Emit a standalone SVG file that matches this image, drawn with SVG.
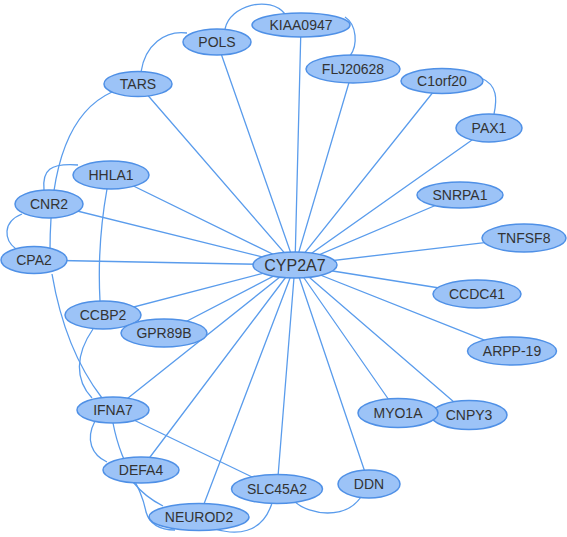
<svg xmlns="http://www.w3.org/2000/svg" width="567" height="537" viewBox="0 0 567 537">
<style>
.e{fill:none;stroke:#5a9cec;stroke-width:1.3}
.n ellipse{fill:#9cc3f7;stroke:#4f90e6;stroke-width:1.5}
.n text{font-family:"Liberation Sans",Arial,sans-serif;font-size:14px;fill:#333;text-anchor:middle;dominant-baseline:central}
</style>
<rect width="567" height="537" fill="#fff"/>
<g id="edges">
<path class="e" d="M295,265L217,42M295,265L301,25M295,265L353,69M295,265L442,81M295,265L489,128M295,265L460,195M295,265L524,238M295,265L477,294M295,265L512,351M295,265L469,415M295,265L398,413M295,265L369,484M295,265L277,489M295,265L199,517M295,265L141,469M295,265L113,410M295,265L164,333M295,265L103,315M295,265L34,260M295,265L49,204M295,265L111,175M295,265L138,84"/>
<path class="e" d="M141,72C145,45 165,30 187,33"/>
<path class="e" d="M225,29C230,5 270,-5 285,14"/>
<path class="e" d="M345,17C357,25 358,45 350,56"/>
<path class="e" d="M481,78C498,85 497,100 494,114"/>
<path class="e" d="M112,92Q50,120 50,250"/>
<path class="e" d="M44,190C42,170 50,163 78,165"/>
<path class="e" d="M22,214C2,222 4,240 16,249"/>
<path class="e" d="M107,189Q97,245 100,301"/>
<path class="e" d="M52,274Q65,350 102,398"/>
<path class="e" d="M93,329C75,355 75,380 92,398"/>
<path class="e" d="M95,421C85,440 92,455 107,462"/>
<path class="e" d="M113,423C122,470 140,480 146,512C150,525 160,530 175,530"/>
<path class="e" d="M133,482Q145,497 163,506"/>
<path class="e" d="M113,410L277,489"/>
<path class="e" d="M272,503C262,535 235,535 215,529"/>
<path class="e" d="M295,502C310,515 345,520 361,497"/>
</g>
<g id="CYP2A7" class="n"><ellipse cx="295" cy="265" rx="42" ry="13"/><text x="295" y="265" style="font-size:16px">CYP2A7</text></g>
<g id="KIAA0947" class="n"><ellipse cx="301" cy="25" rx="49" ry="12"/><text x="301" y="25">KIAA0947</text></g>
<g id="POLS" class="n"><ellipse cx="217" cy="42" rx="34" ry="13"/><text x="217" y="42">POLS</text></g>
<g id="TARS" class="n"><ellipse cx="138" cy="84" rx="34" ry="12.5"/><text x="138" y="84">TARS</text></g>
<g id="FLJ20628" class="n"><ellipse cx="353" cy="69" rx="47" ry="14"/><text x="353" y="69">FLJ20628</text></g>
<g id="C1orf20" class="n"><ellipse cx="442" cy="81" rx="41" ry="12.5"/><text x="442" y="81">C1orf20</text></g>
<g id="PAX1" class="n"><ellipse cx="489" cy="128" rx="33" ry="14"/><text x="489" y="128">PAX1</text></g>
<g id="SNRPA1" class="n"><ellipse cx="460" cy="195" rx="43" ry="13"/><text x="460" y="195">SNRPA1</text></g>
<g id="TNFSF8" class="n"><ellipse cx="524" cy="238" rx="42" ry="14"/><text x="524" y="238">TNFSF8</text></g>
<g id="CCDC41" class="n"><ellipse cx="477" cy="294" rx="44" ry="14"/><text x="477" y="294">CCDC41</text></g>
<g id="ARPP-19" class="n"><ellipse cx="512" cy="351" rx="44.5" ry="14"/><text x="512" y="351">ARPP-19</text></g>
<g id="CNPY3" class="n"><ellipse cx="469" cy="415" rx="38" ry="14.5"/><text x="469" y="415">CNPY3</text></g>
<g id="MYO1A" class="n"><ellipse cx="398" cy="413" rx="40" ry="14.5"/><text x="398" y="413">MYO1A</text></g>
<g id="DDN" class="n"><ellipse cx="369" cy="484" rx="31" ry="14"/><text x="369" y="484">DDN</text></g>
<g id="SLC45A2" class="n"><ellipse cx="277" cy="489" rx="45.5" ry="14.5"/><text x="277" y="489">SLC45A2</text></g>
<g id="NEUROD2" class="n"><ellipse cx="199" cy="517" rx="50" ry="13.5"/><text x="199" y="517">NEUROD2</text></g>
<g id="DEFA4" class="n"><ellipse cx="141" cy="470" rx="38" ry="13"/><text x="141" y="470">DEFA4</text></g>
<g id="IFNA7" class="n"><ellipse cx="113" cy="410" rx="36" ry="13"/><text x="113" y="410">IFNA7</text></g>
<g id="CCBP2" class="n"><ellipse cx="103" cy="315" rx="38" ry="14"/><text x="103" y="315">CCBP2</text></g>
<g id="GPR89B" class="n"><ellipse cx="164" cy="333" rx="43" ry="14"/><text x="164" y="333">GPR89B</text></g>
<g id="CPA2" class="n"><ellipse cx="34" cy="260" rx="33" ry="13.5"/><text x="34" y="260">CPA2</text></g>
<g id="CNR2" class="n"><ellipse cx="49" cy="204" rx="34" ry="14"/><text x="49" y="204">CNR2</text></g>
<g id="HHLA1" class="n"><ellipse cx="111" cy="175" rx="38" ry="14"/><text x="111" y="175">HHLA1</text></g>
</svg>
